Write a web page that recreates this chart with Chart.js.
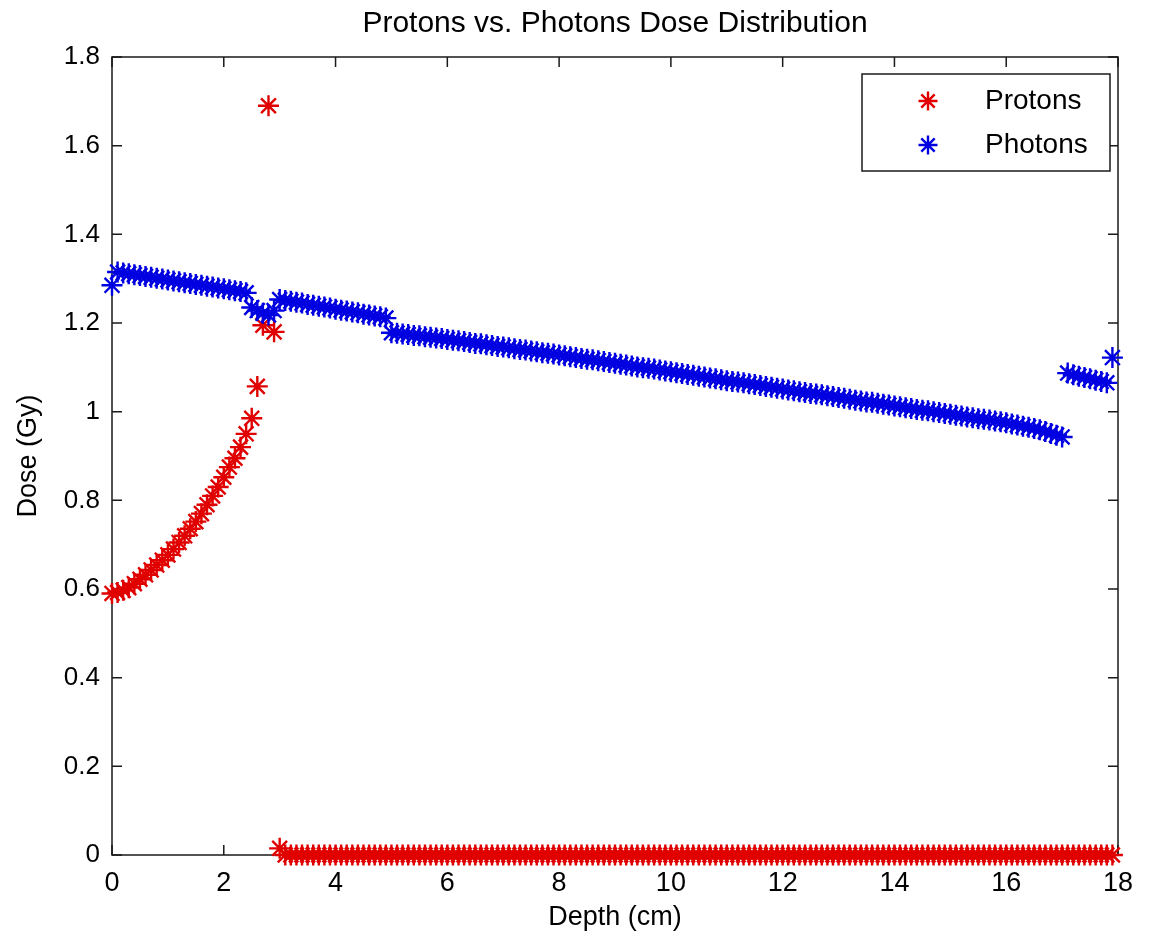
<!DOCTYPE html>
<html>
<head>
<meta charset="utf-8">
<title>Protons vs. Photons Dose Distribution</title>
<script src="https://cdn.jsdelivr.net/npm/chart.js@4.4.1/dist/chart.umd.min.js"></script>
<style>
  html, body { margin: 0; padding: 0; background: #fff; }
  #wrap { width: 1152px; height: 938px; position: relative; }
</style>
</head>
<body>
<div id="wrap"><canvas id="dose-chart"></canvas></div>
<script>
// depth grid (cm), one sample every 0.1 cm
const depth = [
  0.0, 0.1, 0.2, 0.3, 0.4, 0.5, 0.6, 0.7, 0.8, 0.9,
  1.0, 1.1, 1.2, 1.3, 1.4, 1.5, 1.6, 1.7, 1.8, 1.9,
  2.0, 2.1, 2.2, 2.3, 2.4, 2.5, 2.6, 2.7, 2.8, 2.9,
  3.0, 3.1, 3.2, 3.3, 3.4, 3.5, 3.6, 3.7, 3.8, 3.9,
  4.0, 4.1, 4.2, 4.3, 4.4, 4.5, 4.6, 4.7, 4.8, 4.9,
  5.0, 5.1, 5.2, 5.3, 5.4, 5.5, 5.6, 5.7, 5.8, 5.9,
  6.0, 6.1, 6.2, 6.3, 6.4, 6.5, 6.6, 6.7, 6.8, 6.9,
  7.0, 7.1, 7.2, 7.3, 7.4, 7.5, 7.6, 7.7, 7.8, 7.9,
  8.0, 8.1, 8.2, 8.3, 8.4, 8.5, 8.6, 8.7, 8.8, 8.9,
  9.0, 9.1, 9.2, 9.3, 9.4, 9.5, 9.6, 9.7, 9.8, 9.9,
  10.0, 10.1, 10.2, 10.3, 10.4, 10.5, 10.6, 10.7, 10.8, 10.9,
  11.0, 11.1, 11.2, 11.3, 11.4, 11.5, 11.6, 11.7, 11.8, 11.9,
  12.0, 12.1, 12.2, 12.3, 12.4, 12.5, 12.6, 12.7, 12.8, 12.9,
  13.0, 13.1, 13.2, 13.3, 13.4, 13.5, 13.6, 13.7, 13.8, 13.9,
  14.0, 14.1, 14.2, 14.3, 14.4, 14.5, 14.6, 14.7, 14.8, 14.9,
  15.0, 15.1, 15.2, 15.3, 15.4, 15.5, 15.6, 15.7, 15.8, 15.9,
  16.0, 16.1, 16.2, 16.3, 16.4, 16.5, 16.6, 16.7, 16.8, 16.9,
  17.0, 17.1, 17.2, 17.3, 17.4, 17.5, 17.6, 17.7, 17.8, 17.9
];

// dose (Gy)
const protons = [
  0.590, 0.592, 0.597, 0.603, 0.612, 0.622, 0.632, 0.643, 0.654, 0.665,
  0.677, 0.690, 0.705, 0.720, 0.736, 0.752, 0.770, 0.790, 0.810, 0.830,
  0.852, 0.875, 0.895, 0.920, 0.950, 0.985, 1.057, 1.195, 1.690, 1.180,
  0.015, 0, 0, 0, 0, 0, 0, 0, 0, 0,
  0, 0, 0, 0, 0, 0, 0, 0, 0, 0,
  0, 0, 0, 0, 0, 0, 0, 0, 0, 0,
  0, 0, 0, 0, 0, 0, 0, 0, 0, 0,
  0, 0, 0, 0, 0, 0, 0, 0, 0, 0,
  0, 0, 0, 0, 0, 0, 0, 0, 0, 0,
  0, 0, 0, 0, 0, 0, 0, 0, 0, 0,
  0, 0, 0, 0, 0, 0, 0, 0, 0, 0,
  0, 0, 0, 0, 0, 0, 0, 0, 0, 0,
  0, 0, 0, 0, 0, 0, 0, 0, 0, 0,
  0, 0, 0, 0, 0, 0, 0, 0, 0, 0,
  0, 0, 0, 0, 0, 0, 0, 0, 0, 0,
  0, 0, 0, 0, 0, 0, 0, 0, 0, 0,
  0, 0, 0, 0, 0, 0, 0, 0, 0, 0,
  0, 0, 0, 0, 0, 0, 0, 0, 0, 0
];

const photons = [
  1.285, 1.315, 1.313, 1.311, 1.309, 1.307, 1.305, 1.303, 1.301, 1.299,
  1.297, 1.295, 1.293, 1.291, 1.289, 1.287, 1.285, 1.283, 1.281, 1.279,
  1.277, 1.275, 1.273, 1.271, 1.268, 1.235, 1.228, 1.222, 1.218, 1.228,
  1.253, 1.251, 1.249, 1.247, 1.245, 1.242, 1.240, 1.238, 1.236, 1.234,
  1.231, 1.229, 1.227, 1.225, 1.223, 1.220, 1.218, 1.216, 1.214, 1.211,
  1.178, 1.177, 1.175, 1.174, 1.172, 1.171, 1.169, 1.168, 1.166, 1.165,
  1.163, 1.161, 1.160, 1.158, 1.156, 1.154, 1.153, 1.151, 1.149, 1.147,
  1.146, 1.144, 1.142, 1.140, 1.139, 1.137, 1.135, 1.133, 1.132, 1.130,
  1.128, 1.126, 1.124, 1.122, 1.120, 1.118, 1.117, 1.115, 1.113, 1.111,
  1.109, 1.107, 1.105, 1.103, 1.101, 1.099, 1.098, 1.096, 1.094, 1.092,
  1.090, 1.088, 1.086, 1.084, 1.082, 1.080, 1.078, 1.076, 1.074, 1.072,
  1.070, 1.068, 1.067, 1.065, 1.063, 1.061, 1.059, 1.057, 1.055, 1.053,
  1.051, 1.049, 1.047, 1.045, 1.043, 1.041, 1.040, 1.038, 1.036, 1.034,
  1.032, 1.030, 1.028, 1.026, 1.024, 1.022, 1.021, 1.019, 1.017, 1.015,
  1.013, 1.011, 1.009, 1.007, 1.005, 1.003, 1.002, 1.000, 0.998, 0.996,
  0.994, 0.992, 0.990, 0.988, 0.986, 0.984, 0.983, 0.981, 0.979, 0.977,
  0.975, 0.972, 0.970, 0.967, 0.965, 0.962, 0.959, 0.955, 0.951, 0.947,
  0.943, 1.087, 1.083, 1.080, 1.077, 1.074, 1.071, 1.068, 1.065, 1.122
];

const seriesNames = ['Protons', 'Photons'];
const xTicks = [0, 2, 4, 6, 8, 10, 12, 14, 16, 18];
const yTicks = [0, 0.2, 0.4, 0.6, 0.8, 1, 1.2, 1.4, 1.6, 1.8];

const RED = '#e00000';
const BLUE = '#0000e0';
const FONT = '"Liberation Sans", Arial, sans-serif';
const STAR = { radius: 10.5, width: 2.4 };

function toPoints(values) {
    return depth.map((d, i) => ({ x: d, y: values[i] }));
}

// matlab style box with ticks pointing inwards on all four sides
const axesBox = {
    id: 'axesBox',
    beforeDatasetsDraw(chart) {
        const ctx = chart.ctx;
        const a = chart.chartArea;
        const xs = chart.scales.x;
        const ys = chart.scales.y;
        const len = 10;
        ctx.save();
        ctx.strokeStyle = '#1a1a1a';
        ctx.lineWidth = 1.5;
        ctx.strokeRect(a.left, a.top, a.right - a.left, a.bottom - a.top);
        ctx.beginPath();
        xTicks.forEach(v => {
            const px = xs.getPixelForValue(v);
            ctx.moveTo(px, a.bottom); ctx.lineTo(px, a.bottom - len);
            ctx.moveTo(px, a.top); ctx.lineTo(px, a.top + len);
        });
        yTicks.forEach(v => {
            const py = ys.getPixelForValue(v);
            ctx.moveTo(a.left, py); ctx.lineTo(a.left + len, py);
            ctx.moveTo(a.right, py); ctx.lineTo(a.right - len, py);
        });
        ctx.stroke();
        ctx.restore();
    }
};

// legend box in the upper right corner of the axes
const boxLegend = {
    id: 'boxLegend',
    afterDatasetsDraw(chart) {
        const ctx = chart.ctx;
        const a = chart.chartArea;
        const w = 248, h = 97;
        const left = a.right - w - 8;
        const top = a.top + 17;
        ctx.save();
        ctx.fillStyle = '#fff';
        ctx.fillRect(left, top, w, h);
        ctx.strokeStyle = '#1a1a1a';
        ctx.lineWidth = 1.5;
        ctx.strokeRect(left, top, w, h);
        const colors = [RED, BLUE];
        seriesNames.forEach((name, i) => {
            const cy = top + 27 + i * 44;
            ctx.strokeStyle = colors[i];
            ctx.lineWidth = STAR.width;
            Chart.helpers.drawPoint(ctx, { pointStyle: 'star', radius: 9.5, rotation: 0, borderWidth: STAR.width }, left + 66, cy);
            ctx.fillStyle = '#000';
            ctx.font = '28px ' + FONT;
            ctx.textBaseline = 'middle';
            ctx.textAlign = 'left';
            ctx.fillText(name, left + 123, cy);
        });
        ctx.restore();
    }
};

const ctx = document.getElementById('dose-chart').getContext('2d');
const doseChart = new Chart(ctx, {
    type: 'scatter',
    data: {
        datasets: [{
            label: seriesNames[0],
            data: toPoints(protons),
            pointStyle: 'star',
            pointRadius: STAR.radius,
            pointBorderWidth: STAR.width,
            borderColor: RED,
            backgroundColor: RED,
            showLine: false,
            clip: false,
            order: 1
        }, {
            label: seriesNames[1],
            data: toPoints(photons),
            pointStyle: 'star',
            pointRadius: STAR.radius,
            pointBorderWidth: STAR.width,
            borderColor: BLUE,
            backgroundColor: BLUE,
            showLine: false,
            clip: false,
            order: 0
        }]
    },
    options: {
        responsive: true,
        maintainAspectRatio: false,
        animation: false,
        layout: { padding: { left: 0, right: 34, top: 0, bottom: 0 } },
        plugins: {
            legend: { display: false },
            tooltip: { enabled: false },
            title: {
                display: true,
                fullSize: false,
                text: 'Protons vs. Photons Dose Distribution',
                color: '#000',
                font: { family: FONT, size: 30, weight: 'normal' },
                padding: { top: 6, bottom: 15 }
            }
        },
        scales: {
            x: {
                type: 'linear',
                min: 0,
                max: 18,
                afterFit: s => { s.height = 83; },
                afterBuildTicks: s => { s.ticks = xTicks.map(v => ({ value: v })); },
                grid: { display: false, drawTicks: false },
                border: { display: false },
                ticks: { color: '#000', padding: 12, font: { family: FONT, size: 27 } },
                title: {
                    display: true,
                    text: 'Depth (cm)',
                    color: '#000',
                    font: { family: FONT, size: 27 },
                    padding: { top: 0, bottom: 4 }
                }
            },
            y: {
                type: 'linear',
                min: 0,
                max: 1.8,
                afterFit: s => { s.width = 112; },
                afterBuildTicks: s => { s.ticks = yTicks.map(v => ({ value: v })); },
                grid: { display: false, drawTicks: false },
                border: { display: false },
                ticks: {
                    color: '#000',
                    padding: 12,
                    font: { family: FONT, size: 26 },
                    callback: v => String(Number(v.toFixed(1)))
                },
                title: {
                    display: true,
                    text: 'Dose (Gy)',
                    color: '#000',
                    font: { family: FONT, size: 27 },
                    padding: { top: 12, bottom: 0 }
                }
            }
        }
    },
    plugins: [axesBox, boxLegend]
});
</script>
</body>
</html>
